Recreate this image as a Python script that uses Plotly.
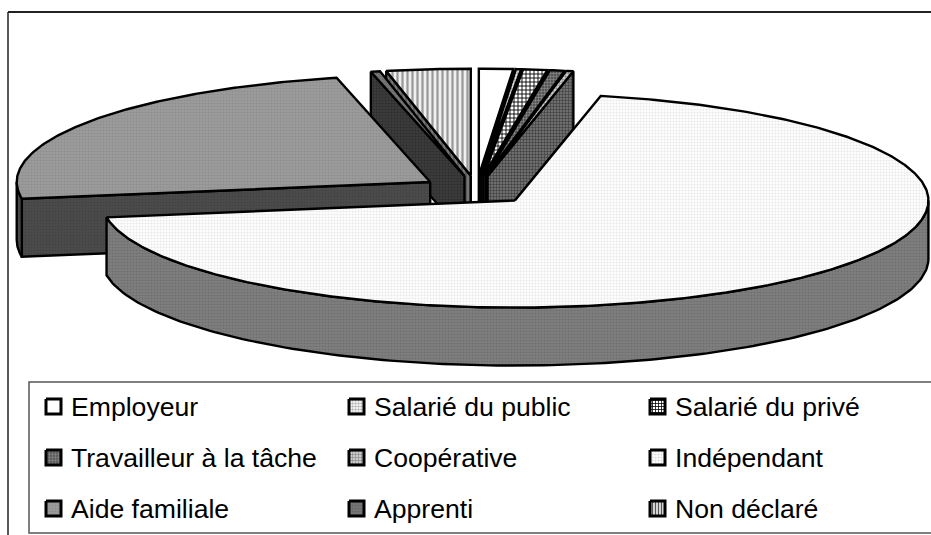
import numpy as np
import plotly.graph_objects as go

categories = ["Employeur", "Salarié du public", "Salarié du privé",
              "Travailleur à la tâche", "Coopérative", "Indépendant",
              "Aide familiale", "Apprenti", "Non déclaré"]
values = [1.33, 0.20, 0.94, 0.58, 0.28, 69.25, 23.9, 0.36, 3.28]

TOP = [
    dict(bg="#ffffff", fg="#ffffff", shape="", size=4, sol=0.3),
    dict(bg="#ffffff", fg="#999999", shape=".", size=3, sol=0.5),
    dict(bg="#ffffff", fg="#000000", shape="+", size=4, sol=0.4),
    dict(bg="#444444", fg="#888888", shape=".", size=3, sol=0.5),
    dict(bg="#cccccc", fg="#777777", shape="+", size=3, sol=0.3),
    dict(bg="#ffffff", fg="#e8e8e8", shape=".", size=3, sol=0.4),
    dict(bg="#9c9c9c", fg="#8e8e8e", shape=".", size=3, sol=0.4),
    dict(bg="#777777", fg="#666666", shape=".", size=3, sol=0.4),
    dict(bg="#f0f0f0", fg="#999999", shape="|", size=5, sol=0.45),
]
WALL = [
    dict(bg="#111111", fg="#111111", shape="", size=4, sol=0.3),
    dict(bg="#333333", fg="#555555", shape=".", size=3, sol=0.4),
    dict(bg="#111111", fg="#444444", shape="+", size=3, sol=0.3),
    dict(bg="#222222", fg="#444444", shape=".", size=3, sol=0.4),
    dict(bg="#6e6e6e", fg="#333333", shape="+", size=3, sol=0.3),
    dict(bg="#808080", fg="#6f6f6f", shape=".", size=3, sol=0.4),
    dict(bg="#4c4c4c", fg="#424242", shape=".", size=3, sol=0.4),
    dict(bg="#3c3c3c", fg="#2c2c2c", shape=".", size=3, sol=0.4),
    dict(bg="#777777", fg="#555555", shape="|", size=4, sol=0.4),
]
LEG = [
    TOP[0],
    dict(bg="#f4f4f4", fg="#aaaaaa", shape=".", size=3, sol=0.4),
    dict(bg="#ffffff", fg="#000000", shape="+", size=3, sol=0.45),
    dict(bg="#555555", fg="#888888", shape=".", size=3, sol=0.45),
    dict(bg="#cccccc", fg="#777777", shape="+", size=3, sol=0.3),
    dict(bg="#ffffff", fg="#dddddd", shape=".", size=3, sol=0.4),
    TOP[6],
    TOP[7],
    dict(bg="#eeeeee", fg="#555555", shape="|", size=3, sol=0.45),
]

CX, CY = 476.5, 190.1
RX, RY = 413.5, 107.0
EXPL = 55.8
H = 58.0

total = sum(values)
ends = np.cumsum(values) / total * 360.0
starts = np.concatenate([[0.0], ends[:-1]])

fig = go.Figure()


def pat(st):
    if not st["shape"]:
        return None
    return dict(shape=st["shape"], size=st["size"], solidity=st["sol"],
                fgcolor=st["fg"], bgcolor=st["bg"], fillmode="replace")


def poly(xs, ys, st, width=2.4, name=""):
    kw = {}
    p = pat(st)
    if p:
        kw["fillpattern"] = p
    fig.add_trace(go.Scatter(
        x=list(xs) + [xs[0]], y=list(ys) + [ys[0]], mode="lines", fill="toself",
        fillcolor=st["bg"], line=dict(color="#000000", width=width),
        hoverinfo="skip", showlegend=False, name=name, **kw))


def draw_slice(i):
    a0, a1 = np.radians(starts[i]), np.radians(ends[i])
    m = (a0 + a1) / 2
    ax = CX + EXPL * np.sin(m)
    ay = CY - EXPL * (RY / RX) * np.cos(m)
    ex = lambda t: ax + RX * np.sin(t)
    ey = lambda t: ay - RY * np.cos(t)
    if starts[i] > 180:
        poly([ax, ex(a0), ex(a0), ax], [ay, ey(a0), ey(a0) + H, ay + H], WALL[i], name=categories[i])
    if ends[i] < 180:
        poly([ax, ex(a1), ex(a1), ax], [ay, ey(a1), ey(a1) + H, ay + H], WALL[i], name=categories[i])
    lo, hi = max(a0, np.pi / 2), min(a1, 3 * np.pi / 2)
    if hi > lo:
        t = np.linspace(lo, hi, 160)
        poly(list(ex(t)) + list(ex(t[::-1])), list(ey(t)) + list(ey(t[::-1]) + H), WALL[i], name=categories[i])
    t = np.linspace(a0, a1, max(6, int(np.degrees(a1 - a0) * 2)))
    poly([ax] + list(ex(t)), [ay] + list(ey(t)), TOP[i], name=categories[i])


for i in [8, 7, 6, 0, 1, 2, 3, 4, 5]:
    draw_slice(i)

col_x = [46, 349, 650]
row_y = [399, 450, 501]
SW = 15
annos = []
for k, name in enumerate(categories):
    c, r = k % 3, k // 3
    x0, y0 = col_x[c], row_y[r]
    poly([x0, x0 + SW, x0 + SW, x0], [y0, y0, y0 + SW, y0 + SW], LEG[k], width=3, name=name)
    annos.append(dict(x=x0 + 22.5, y=y0 + SW / 2 + 0.5, xref="x", yref="y", text=name,
                      showarrow=False, xanchor="left", yanchor="middle",
                      font=dict(family="Liberation Sans, Arial, sans-serif", size=26.6, color="#000000")))

shapes = [
    dict(type="line", x0=8, x1=8, y0=12, y1=535, xref="x", yref="y", line=dict(color="#222222", width=1.5)),
    dict(type="line", x0=8, x1=931, y0=12, y1=12, xref="x", yref="y", line=dict(color="#222222", width=2)),
    dict(type="rect", x0=29, x1=940, y0=382, y1=533, xref="x", yref="y", line=dict(color="#555555", width=1.5)),
]

fig.update_layout(
    width=931, height=535, margin=dict(l=0, r=0, t=0, b=0),
    paper_bgcolor="#ffffff", plot_bgcolor="#ffffff",
    xaxis=dict(range=[0, 931], visible=False, fixedrange=True),
    yaxis=dict(range=[535, 0], visible=False, fixedrange=True),
    shapes=shapes, annotations=annos, showlegend=False,
)
fig.write_html("out.html", config=dict(displayModeBar=False),
               post_script="document.body.style.margin='0';document.body.style.overflow='hidden';")
